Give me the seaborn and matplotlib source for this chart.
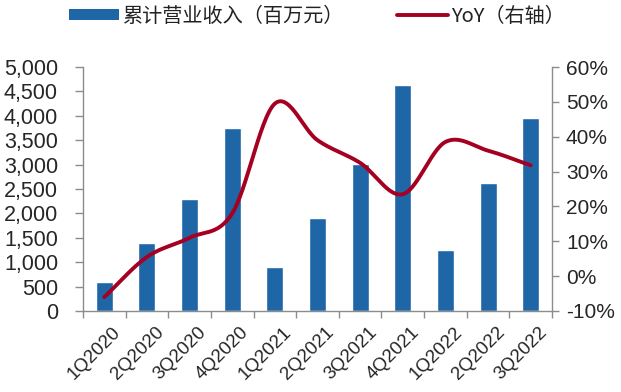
import numpy as np
import pandas as pd
import matplotlib
matplotlib.use("Agg")
import matplotlib.pyplot as plt
import matplotlib.transforms as mtransforms
from matplotlib.ticker import FuncFormatter, FixedLocator
from matplotlib.lines import Line2D
from matplotlib.patches import Patch
import seaborn as sns

quarters = ["1Q2020", "2Q2020", "3Q2020", "4Q2020", "1Q2021", "2Q2021",
            "3Q2021", "4Q2021", "1Q2022", "2Q2022", "3Q2022"]
revenue = [600, 1390, 2290, 3750, 900, 1910, 3010, 4640, 1250, 2630, 3960]
yoy = [-6.0, 5.5, 11.0, 18.0, 49.5, 39.0, 32.5, 23.5, 38.5, 36.0, 31.8]

bar_label = "累计营业收入（百万元）"
line_label = "YoY（右轴）"

BLUE = "#1F66A6"
RED = "#A50021"
SPINE = "#8C8C8C"

sns.set_theme(style="white")
plt.rcParams["font.family"] = ["Liberation Sans", "Noto Sans CJK SC", "DejaVu Sans"]
plt.rcParams["text.color"] = "#222222"

df = pd.DataFrame({"quarter": quarters, "revenue": revenue, "yoy": yoy})

fig = plt.figure(figsize=(6.21, 3.92), dpi=100)
ax = fig.add_axes([83 / 621, 1 - 311 / 392, (552 - 83) / 621, (311 - 67) / 392])

sns.barplot(data=df, x="quarter", y="revenue", color=BLUE, width=0.4,
            saturation=1, ax=ax)
ax.set_xlim(-0.5, len(quarters) - 0.5)
ax.set_ylim(0, 5000)
ax.set_yticks(np.arange(0, 5001, 500))
ax.yaxis.set_major_formatter(FuncFormatter(lambda v, p: f"{int(v):,}"))
ax.set_xlabel("")
ax.set_ylabel("")

# Smooth curve through the YoY points (Catmull-Rom)
def catmull_rom(xs, ys, n=30):
    xs = np.asarray(xs, float)
    ys = np.asarray(ys, float)
    px = np.concatenate([[2 * xs[0] - xs[1]], xs, [2 * xs[-1] - xs[-2]]])
    py = np.concatenate([[2 * ys[0] - ys[1]], ys, [2 * ys[-1] - ys[-2]]])
    outx, outy = [], []
    t = np.linspace(0, 1, n, endpoint=False)
    for i in range(1, len(px) - 2):
        for arr, out in ((px, outx), (py, outy)):
            p0, p1, p2, p3 = arr[i - 1], arr[i], arr[i + 1], arr[i + 2]
            out.extend(0.5 * ((2 * p1) + (-p0 + p2) * t
                              + (2 * p0 - 5 * p1 + 4 * p2 - p3) * t ** 2
                              + (-p0 + 3 * p1 - 3 * p2 + p3) * t ** 3))
    outx.append(xs[-1])
    outy.append(ys[-1])
    return np.array(outx), np.array(outy)

ax2 = ax.twinx()
sx, sy = catmull_rom(np.arange(len(quarters)), df["yoy"])
sns.lineplot(x=sx, y=sy, color=RED, linewidth=2.8, ax=ax2, sort=False)
ax2.set_ylim(-10, 60)
ax2.set_yticks(np.arange(-10, 61, 10))
ax2.yaxis.set_major_formatter(FuncFormatter(lambda v, p: f"{int(v)}%"))
ax2.set_xlim(-0.5, len(quarters) - 0.5)

for a in (ax, ax2):
    a.spines["top"].set_visible(False)
    for s in ("left", "right", "bottom"):
        a.spines[s].set_color(SPINE)
        a.spines[s].set_linewidth(1.0)
    a.grid(False)

ax.spines["right"].set_visible(False)
ax2.spines["left"].set_visible(False)
ax2.spines["bottom"].set_visible(False)

ax.tick_params(axis="y", which="major", direction="out", length=6, width=1,
               color=SPINE, labelsize=15.5, pad=12, left=True)
ax2.tick_params(axis="y", which="major", direction="out", length=5, width=1,
                color=SPINE, labelsize=15, pad=5, right=True)

# x ticks sit on the category boundaries, labels at the centres
ax.xaxis.set_minor_locator(FixedLocator(np.arange(-0.5, len(quarters), 1.0)))
ax.tick_params(axis="x", which="minor", direction="out", length=5, width=1,
               color=SPINE, bottom=True)
ax.tick_params(axis="x", which="major", length=0, labelsize=13.5, pad=9)
shift = mtransforms.ScaledTranslation(8 / 100, 0, fig.dpi_scale_trans)
for lbl in ax.get_xticklabels():
    lbl.set_rotation(45)
    lbl.set_ha("right")
    lbl.set_rotation_mode("anchor")
    lbl.set_transform(lbl.get_transform() + shift)

handles = [Patch(facecolor=BLUE, edgecolor="none"),
           Line2D([0], [0], color=RED, linewidth=2.8)]
fig.legend(handles, [bar_label, line_label], loc="center left",
           bbox_to_anchor=(61 / 621, 1 - 16 / 392), ncol=2, frameon=False,
           handlelength=2.5, handleheight=0.42,
           columnspacing=2.6, handletextpad=0.2, borderaxespad=0,
           prop={"family": ["Noto Sans CJK SC", "DejaVu Sans"], "size": 14.5})

fig.savefig("out.png", dpi=100)
